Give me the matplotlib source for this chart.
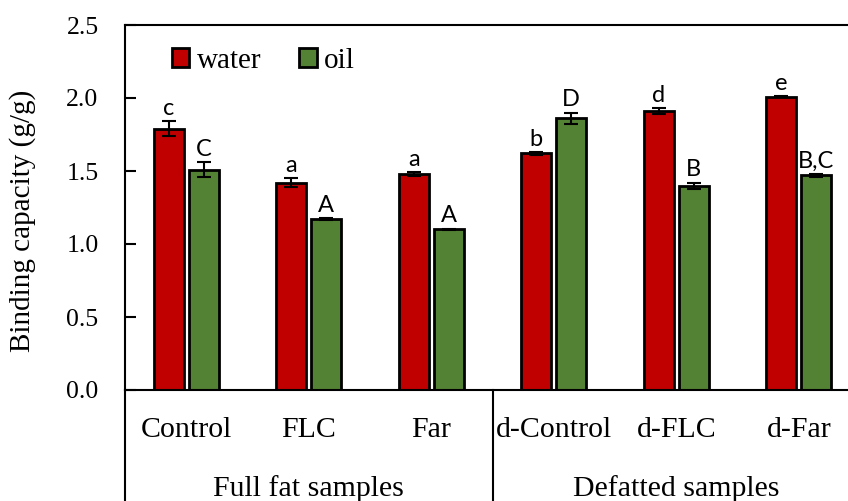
import numpy as np
import matplotlib.pyplot as plt
from matplotlib.lines import Line2D

# donnees
echantillons = ["Control", "FLC", "Far", "d-Control", "d-FLC", "d-Far"]
groupes = ["Full fat samples", "Defatted samples"]
eau = [1.79, 1.42, 1.48, 1.62, 1.91, 2.01]
eau_err = [0.05, 0.03, 0.015, 0.01, 0.02, 0.005]
huile = [1.51, 1.17, 1.10, 1.86, 1.40, 1.47]
huile_err = [0.05, 0.005, 0.005, 0.04, 0.02, 0.01]
lettres_eau = ["c", "a", "a", "b", "d", "e"]
lettres_huile = ["C", "A", "A", "D", "B", "B,C"]

ROUGE = "#C00000"
VERT = "#548235"
SERIF = "Liberation Serif"
SANS = "Lato"

fig = plt.figure(figsize=(8.48, 5.01), dpi=100)
# l'axe depasse a droite : l'original est coupe
ax = fig.add_axes([125 / 848, 111 / 501, 735 / 848, 365 / 501])

x = np.arange(len(echantillons))
larg = 0.245
dec = 0.143

ax.bar(x - dec, eau, larg, color=ROUGE, edgecolor="black", linewidth=2, label="water", zorder=2)
ax.bar(x + dec, huile, larg, color=VERT, edgecolor="black", linewidth=2, label="oil", zorder=2)
ax.errorbar(x - dec, eau, yerr=eau_err, fmt="none", ecolor="black", elinewidth=1.5, capsize=5, capthick=1.5, zorder=3)
ax.errorbar(x + dec, huile, yerr=huile_err, fmt="none", ecolor="black", elinewidth=1.5, capsize=5, capthick=1.5, zorder=3)

for i in range(len(echantillons)):
    ax.text(x[i] - dec, eau[i] + eau_err[i] + 0.015, lettres_eau[i], ha="center", va="bottom",
            fontsize=17, family=SANS)
    ax.text(x[i] + dec, huile[i] + huile_err[i] + 0.015, lettres_huile[i], ha="center", va="bottom",
            fontsize=17, family=SANS)

ax.set_xlim(-0.5, len(echantillons) - 0.5)
ax.set_ylim(0, 2.5)
ax.set_yticks(np.arange(0, 2.51, 0.5))
ax.set_yticklabels([f"{v:.1f}" for v in np.arange(0, 2.51, 0.5)], family=SERIF, fontsize=18.5)
ax.tick_params(axis="y", direction="in", length=8, width=1.5, pad=19)
ax.set_xticks([])
for s in ax.spines.values():
    s.set_linewidth(1.5)
ax.set_ylabel("Binding capacity (g/g)", family=SERIF, fontsize=21)
ax.yaxis.set_label_coords(-0.121, 0.463)

# etiquettes des echantillons et des groupes sous l'axe
tr = ax.get_xaxis_transform()
for i, nom in enumerate(echantillons):
    ax.text(x[i], -0.11, nom, transform=tr, ha="center", va="center", family=SERIF, fontsize=21.5)
for j, g in enumerate(groupes):
    ax.text(1 + 3 * j, -0.27, g, transform=tr, ha="center", va="center", family=SERIF, fontsize=21.5)
for xs in [-0.5, 2.5, 5.5]:
    ax.add_line(Line2D([xs, xs], [0, -0.4], transform=tr, color="black", linewidth=1.5, clip_on=False))

leg = ax.legend(loc="upper left", bbox_to_anchor=(0.04, 0.985), ncol=2, frameon=False,
                prop={"family": SERIF, "size": 21}, handlelength=0.6, handleheight=0.6,
                columnspacing=1.3, handletextpad=0.25, borderaxespad=0.2)

fig.savefig("out.png", dpi=100)
